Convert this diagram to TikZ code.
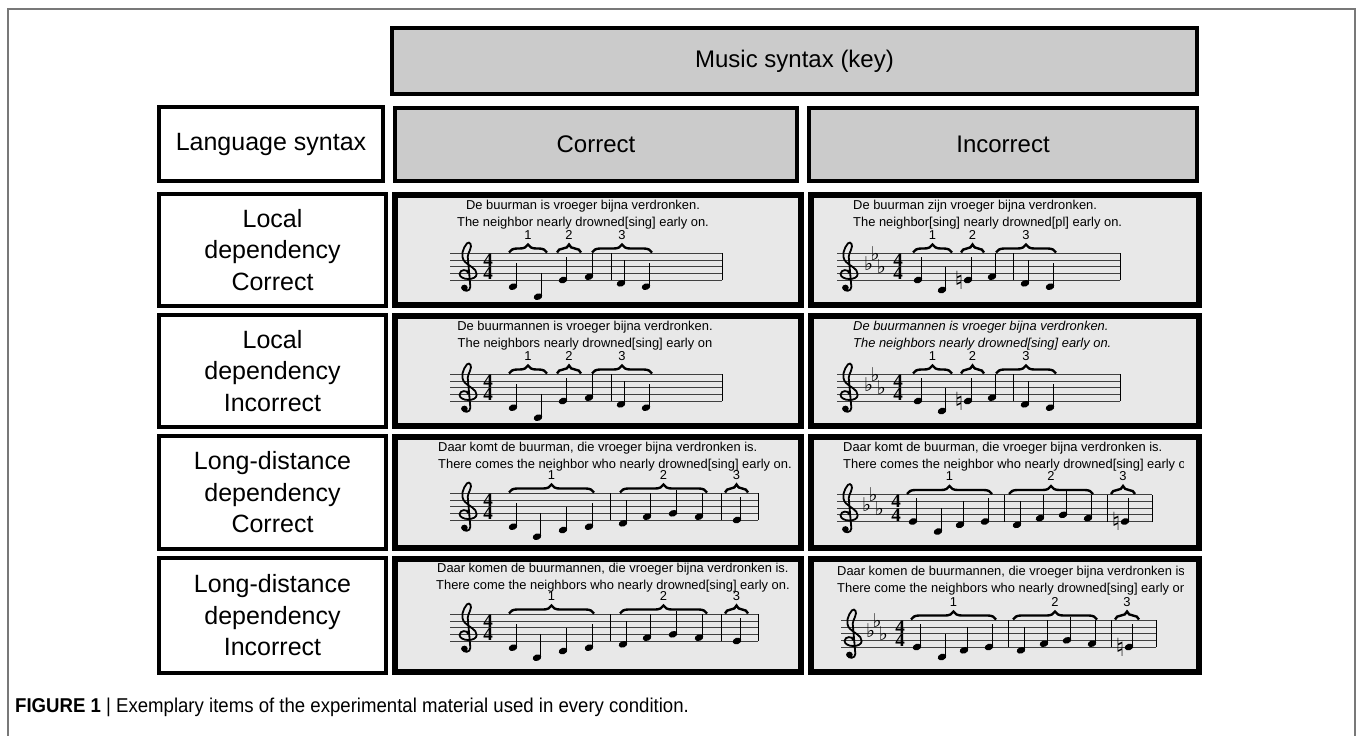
\documentclass[tikz,border=0pt]{standalone}
\usepackage{fontspec}
\setmainfont{Liberation Sans}
\newfontfamily\dvs{DejaVu Sans}
\newfontfamily\tsf{Liberation Serif}
\newfontfamily\capf[FakeStretch=0.93]{Liberation Sans}
\usetikzlibrary{decorations.pathreplacing}
\definecolor{hdrgray}{RGB}{203,203,203}
\definecolor{pangray}{RGB}{232,232,232}
\definecolor{framegray}{RGB}{120,120,120}
\newcount\gcnt
\tikzset{
 stl/.style={line width=0.8pt, draw=black!75},
 stem/.style={line width=1pt},
 barline/.style={line width=1pt},
 brc/.style={decorate, decoration={brace, amplitude=8pt}, line width=2.4pt},
 num/.style={anchor=base, inner sep=0, font=\fontsize{12.9}{14}\selectfont},
 ts/.style={inner sep=0, align=center, font=\tsf\bfseries\fontsize{19}{13.34}\selectfont},
 acc/.style={inner sep=0, font=\dvs\fontsize{19}{19}\selectfont},
 nacc/.style={inner sep=0, font=\dvs\fontsize{25}{25}\selectfont},
 txt/.style={inner sep=0, font=\fontsize{12.9}{15}\selectfont},
 itxt/.style={txt, font=\itshape\fontsize{12.9}{15}\selectfont},
 hdr/.style={draw=black, line width=4pt, fill=hdrgray, inner sep=0, font=\fontsize{24}{30}\selectfont},
 lab/.style={draw=black, line width=4pt, fill=white, inner sep=0, align=center, font=\fontsize{25}{31.5}\selectfont},
 pan/.style={draw=black, line width=6pt, fill=pangray, inner sep=0},
 clefline/.style={line width=1.8pt, line cap=round},
 frm/.style={draw=framegray, line width=1.2pt}
}
\newcommand\stf[3]{\gdef\yb{#3}%
  \foreach \k in {0,...,4}{\draw[stl] ({#1},{#3-\k*6.67}) -- ({#2},{#3-\k*6.67});}}
\newcommand\nt[2]{%
  \fill ({#1},{\yb-(#2)*3.335}) ellipse [x radius=4.4pt, y radius=3.2pt, rotate=20];
  \draw[stem] ({#1+3.8},{\yb-(#2)*3.335-0.5}) -- ++(0,-23);}
\newcommand\barl[1]{\draw[barline] ({#1},{\yb}) -- ({#1},{\yb-26.68});}
\newcommand\brc[3]{%
  \draw[brc] ({#1},{\yb-27.5}) -- ({#2},{\yb-27.5});
  \global\advance\gcnt1
  \node[num] (g\the\gcnt) at ({(#1+#2)/2},{\yb-41}) {#3};}
\newcommand\tsig[1]{%
  \global\advance\gcnt1 \node[ts] (g\the\gcnt) at ({#1},{\yb-13.1}) {4\\4};}
\newcommand\keysig[1]{\global\advance\gcnt1
  \node[acc, anchor=base west] (g\the\gcnt) at ({#1-2},{\yb+3.5})
  {\raisebox{13.34pt}{♭}\kern-2.6pt\raisebox{23.35pt}{♭}\kern-2.6pt\raisebox{10pt}{♭}};}
\newcommand\nat[2]{\global\advance\gcnt1 \node[nacc] (g\the\gcnt) at ({#1},{\yb-(#2)*3.335}) {♮};}
\newcommand\clef[1]{%
 \begin{scope}[shift={({#1},{\yb-6.67})}, x=7.4pt, y=6.67pt]
 \draw[clefline] (0.15,0.05) .. controls (0.15,0.65) and (-1.0,0.65) .. (-1.0,-0.1)
   .. controls (-1.0,-1.05) and (1.3,-1.15) .. (1.3,-0.1)
   .. controls (1.3,0.75) and (0.3,1.05) .. (-0.3,1.75)
   .. controls (-0.95,2.55) and (-0.55,3.8) .. (0.0,4.5)
   .. controls (0.35,4.85) and (0.75,4.3) .. (0.4,3.5)
   .. controls (0.25,3.1) and (0.1,2.8) .. (0.1,2.5)
   -- (0.45,-2.0)
   .. controls (0.5,-2.75) and (-0.55,-2.85) .. (-0.6,-2.15);
 \fill (-0.35,-2.15) circle (0.45);
 \end{scope}}
\newcommand\localC[1]{%
 \stf{450}{722}{#1}\clef{467}\tsig{488}%
 \nt{513}{-2}\nt{538}{-5}\nt{563}{0}\nt{589}{1}\nt{621}{-1}\nt{646}{-2}%
 \barl{611}\barl{722}%
 \brc{509}{547}{1}\brc{557}{581}{2}\brc{592}{652}{3}}
\newcommand\localI[1]{%
 \stf{837}{1120}{#1}\clef{848}\keysig{866}\tsig{898}%
 \nt{918}{0}\nt{942}{-3}\nat{959}{0}\nt{968}{0}\nt{992}{1}\nt{1025}{-1}\nt{1050}{-2}%
 \barl{1013}\barl{1120}%
 \brc{913}{952}{1}\brc{961}{984}{2}\brc{996}{1056}{3}}
\newcommand\longC[1]{%
 \stf{450}{758}{#1}\clef{467}\tsig{488}%
 \nt{513}{-2}\nt{537}{-5}\nt{563}{-3}\nt{589}{-2}\nt{623}{-1}\nt{647}{1}\nt{673}{2}\nt{699}{1}\nt{737}{0}%
 \barl{610}\barl{721}\barl{758}%
 \brc{509}{594}{1}\brc{620}{707}{2}\brc{725}{748}{3}}
\newcommand\longI[2]{\def\ox{#2}%
 \stf{\ox+837}{\ox+1152}{#1}\clef{\ox+848}\keysig{\ox+864}\tsig{\ox+896}%
 \nt{\ox+913}{0}\nt{\ox+938}{-3}\nt{\ox+960}{-1}\nt{\ox+985}{0}%
 \nt{\ox+1017}{-1}\nt{\ox+1040}{1}\nt{\ox+1063}{2}\nt{\ox+1088}{1}%
 \nat{\ox+1116}{0}\nt{\ox+1125}{0}%
 \barl{\ox+1004}\barl{\ox+1107}\barl{\ox+1152}%
 \brc{\ox+907}{\ox+992}{1}\brc{\ox+1009}{\ox+1093}{2}\brc{\ox+1111}{\ox+1135}{3}}
\begin{document}
\begin{tikzpicture}[x=1pt,y=-1pt]
\useasboundingbox (0,0) rectangle (1357,736);
\fill[white] (0,0) rectangle (1357,736);
\draw[frm] (8,737) -- (8,9) -- (1355,9) -- (1355,737);
% headers
\node[hdr, minimum width=805pt, minimum height=66pt] (music) at (794.5,61) {Music syntax (key)};
\node[lab, minimum width=224pt, minimum height=74pt] (lang) at (271,144) {Language syntax};
\node[hdr, minimum width=402pt, minimum height=73pt] (corr) at (596,144) {Correct};
\node[hdr, minimum width=388pt, minimum height=73pt] (incorr) at (1003,144.5) {Incorrect};
% row labels
\node[lab, minimum width=227pt, minimum height=112pt] (l1) at (272.5,250) {Local\\dependency\\Correct};
\node[lab, minimum width=227pt, minimum height=112pt] (l2) at (272.5,371) {Local\\dependency\\Incorrect};
\node[lab, minimum width=227pt, minimum height=113pt] (l3) at (272.5,492.5) {Long-distance\\dependency\\Correct};
\node[lab, minimum width=227pt, minimum height=115pt] (l4) at (272.5,615.5) {Long-distance\\dependency\\Incorrect};
% panels
\node[pan, minimum width=406pt, minimum height=110pt] (pA) at (598,250) {};
\node[pan, minimum width=388pt, minimum height=110pt] (pC) at (1005,250) {};
\node[pan, minimum width=406pt, minimum height=110pt] (pB) at (598,371) {};
\node[pan, minimum width=388pt, minimum height=110pt] (pD) at (1005,371) {};
\node[pan, minimum width=406pt, minimum height=111pt] (pE) at (598,492.5) {};
\node[pan, minimum width=388pt, minimum height=111pt] (pG) at (1005,492.5) {};
\node[pan, minimum width=406pt, minimum height=113pt] (pF) at (598,615.5) {};
\node[pan, minimum width=388pt, minimum height=113pt] (pH) at (1005,615.5) {};
% texts
\node[txt, anchor=base] (tA1) at (583,209) {De buurman is vroeger bijna verdronken.};
\node[txt, anchor=base] (tA2) at (583,226) {The neighbor nearly drowned[sing] early on.};
\node[txt, anchor=base west] (tC1) at (853,209) {De buurman zijn vroeger bijna verdronken.};
\node[txt, anchor=base west] (tC2) at (853,226) {The neighbor[sing] nearly drowned[pl] early on.};
\node[txt, anchor=base] (tB1) at (585,330) {De buurmannen is vroeger bijna verdronken.};
\node[txt, anchor=base] (tB2) at (585,347) {The neighbors nearly drowned[sing] early on};
\node[itxt, anchor=base west] (tD1) at (853,330) {De buurmannen is vroeger bijna verdronken.};
\node[itxt, anchor=base west] (tD2) at (853,347) {The neighbors nearly drowned[sing] early on.};
\node[txt, anchor=base west] (tE1) at (438,451) {Daar komt de buurman, die vroeger bijna verdronken is.};
\node[txt, anchor=base west] (tE2) at (438,468) {There comes the neighbor who nearly drowned[sing] early on.};
\node[txt, anchor=base west] (tF1) at (437,572) {Daar komen de buurmannen, die vroeger bijna verdronken is.};
\node[txt, anchor=base west] (tF2) at (436,589) {There come the neighbors who nearly drowned[sing] early on.};
\begin{scope}
\clip (805,430) rectangle (1183,680);
\node[txt, anchor=base west] (tG1) at (843,451) {Daar komt de buurman, die vroeger bijna verdronken is.};
\node[txt, anchor=base west] (tG2) at (843,468) {There comes the neighbor who nearly drowned[sing] early on.};
\node[txt, anchor=base west] (tH1) at (837,575) {Daar komen de buurmannen, die vroeger bijna verdronken is.};
\node[txt, anchor=base west] (tH2) at (837,592) {There come the neighbors who nearly drowned[sing] early on.};
\end{scope}
% staves
\localC{280}
\localC{401}
\localI{280}
\localI{401}
\longC{520}
\longC{641}
\longI{521.5}{0}
\longI{647}{4}
% caption
\node[anchor=base west, inner sep=0, font=\capf\fontsize{20}{22}\selectfont] (cap) at (15,712) {{\bfseries FIGURE 1} | Exemplary items of the experimental material used in every condition.};
\end{tikzpicture}
\end{document}
